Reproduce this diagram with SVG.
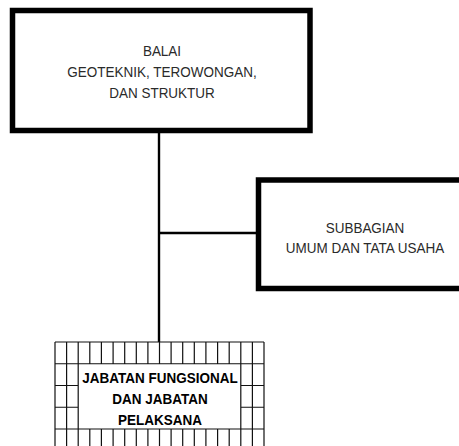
<svg xmlns="http://www.w3.org/2000/svg" width="459" height="446" viewBox="0 0 459 446">
<style>
.box{fill:#fff;stroke:#000;stroke-width:5.5}
.lbl{font-family:"Liberation Sans",Arial,sans-serif;font-size:15px;fill:#2a2a2a;text-anchor:middle}
.bold{font-family:"Liberation Sans",Arial,sans-serif;font-size:15px;font-weight:bold;fill:#000;text-anchor:middle}
.conn{stroke:#000;stroke-width:2.4;fill:none}
.grid{stroke:#111;stroke-width:1.2;fill:none}
</style>
<rect width="459" height="446" fill="#fff"/>
<g id="connectors">
<line class="conn" x1="159" y1="131" x2="159" y2="342"/>
<line class="conn" x1="159" y1="233" x2="257" y2="233"/>
</g>
<g id="balai">
<rect class="box" x="12.5" y="10.5" width="297.5" height="120"/>
<text class="lbl" transform="matrix(0.9 0 0 1 162 0)" x="0" y="56">BALAI</text>
<text class="lbl" transform="matrix(0.9 0 0 1 162 0)" x="0" y="77">GEOTEKNIK, TEROWONGAN,</text>
<text class="lbl" transform="matrix(0.9 0 0 1 162 0)" x="0" y="98.5">DAN STRUKTUR</text>
</g>
<g id="subbagian">
<rect class="box" x="258.5" y="180" width="213" height="108.5"/>
<text class="lbl" transform="matrix(0.9 0 0 1 365 0)" x="0" y="233">SUBBAGIAN</text>
<text class="lbl" transform="matrix(0.9 0 0 1 365 0)" x="0" y="253">UMUM DAN TATA USAHA</text>
</g>
<g id="jabatan">
<rect x="55" y="342" width="209" height="110" fill="#fff"/>
<path class="grid" d="M55 342V446M66.6 342V446M78.2 342V446M89.8 342V363.75M101.4 342V363.75M113.1 342V363.75M124.7 342V363.75M136.3 342V363.75M147.9 342V363.75M159.5 342V363.75M171.1 342V363.75M182.7 342V363.75M194.3 342V363.75M205.9 342V363.75M217.6 342V363.75M229.2 342V363.75M240.8 342V446M252.4 342V446M264 342V446M89.8 429V446M101.4 429V446M113.1 429V446M124.7 429V446M136.3 429V446M147.9 429V446M159.5 429V446M171.1 429V446M182.7 429V446M194.3 429V446M205.9 429V446M217.6 429V446M229.2 429V446M55 342H264M55 363.75H264M55 385.5H78.2M240.8 385.5H264M55 407.25H78.2M240.8 407.25H264M55 429H264"/>
<text class="bold" transform="matrix(0.9 0 0 1 160 0)" x="0" y="383">JABATAN FUNGSIONAL</text>
<text class="bold" transform="matrix(0.9 0 0 1 160 0)" x="0" y="404.5">DAN JABATAN</text>
<text class="bold" transform="matrix(0.9 0 0 1 160 0)" x="0" y="425">PELAKSANA</text>
</g>
</svg>
